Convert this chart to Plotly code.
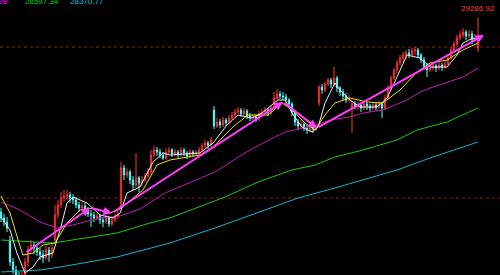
import plotly.graph_objects as go

# ---------------- data ----------------
idx = list(range(160))
opens = [27340,27280,27240,27060,26840,26760,26680,26620,26700,26840,26960,27010,26980,26940,26910,26880,26960,26910,27060,27310,
         27410,27480,27500,27510,27480,27460,27410,27380,27400,27360,27320,27310,27280,27300,27260,27240,27280,27220,27260,27300,
         27390,27780,27710,27740,27660,27610,27680,27630,27660,27700,27740,27910,27960,27940,27910,27880,27940,27960,27920,27940,
         27910,27960,27930,27900,27940,27920,27930,27960,28000,28030,28010,28360,28200,28240,28210,28260,28230,28280,28310,28340,
         28360,28320,28350,28300,28280,28290,28270,28320,28340,28360,28330,28380,28480,28520,28500,28490,28460,28420,28340,28240,
         28200,28220,28180,28160,28200,28170,28430,28590,28560,28620,28660,28620,28680,28580,28540,28500,28460,28380,28420,28400,
         28410,28380,28420,28400,28380,28410,28390,28420,28380,28480,28580,28680,28760,28830,28880,28910,28930,28910,28950,28960,
         28910,28860,28800,28760,28780,28800,28780,28810,28790,28820,28880,28960,29020,29080,29110,29140,29100,29120,29060,28980]
highs = [27380,27320,27290,27100,26880,26800,26740,26740,26880,27000,27060,27040,27020,26980,26960,27000,26990,27030,27410,27460,
         27540,27560,27560,27540,27520,27490,27440,27440,27430,27390,27360,27340,27330,27320,27290,27310,27300,27290,27320,27350,
         27840,27810,27780,27760,27700,27930,27700,27700,27730,27780,27960,28000,27990,27970,27940,27980,27990,27980,27970,27960,
         27990,27980,27950,27970,27960,27960,27990,28030,28060,28050,28090,28400,28280,28270,28290,28280,28310,28340,28370,28390,
         28380,28380,28370,28330,28320,28310,28350,28370,28390,28380,28410,28540,28570,28550,28540,28520,28480,28440,28360,28270,
         28260,28240,28210,28230,28220,28220,28610,28620,28640,28680,28680,28790,28700,28600,28570,28530,28510,28460,28450,28440,
         28430,28450,28440,28420,28440,28430,28450,28440,28510,28610,28700,28780,28860,28910,28940,28960,28970,28980,28990,28980,
         28930,28890,28830,28820,28830,28820,28840,28830,28850,28910,28990,29050,29110,29150,29180,29160,29160,29150,29120,29286.92]
lows = [27240,27200,27140,26800,26720,26620,26580,26580,26660,26800,26940,26920,26900,26860,26830,26860,26840,26880,27040,27280,
        27380,27440,27460,27430,27420,27380,27340,27360,27330,27290,27190,27240,27260,27220,27190,27220,27190,27200,27240,27270,
        27370,27660,27680,27620,27560,27580,27540,27600,27640,27680,27720,27890,27900,27880,27860,27860,27920,27890,27900,27880,
        27890,27900,27870,27880,27890,27900,27910,27940,27980,27970,27990,28170,28180,28180,28190,28200,28210,28260,28290,28320,
        28290,28300,28270,28250,28260,28240,28250,28300,28320,28300,28310,28360,28460,28470,28460,28430,28380,28300,28200,28160,
        28180,28150,28120,28140,28130,28150,28400,28520,28540,28600,28580,28600,28540,28500,28460,28430,28440,28130,28370,28360,
        28340,28360,28360,28340,28360,28350,28370,28280,28360,28460,28560,28660,28730,28800,28840,28860,28880,28890,28910,28880,
        28830,28760,28690,28740,28760,28740,28760,28750,28770,28800,28860,28940,29000,29060,29080,29060,29080,29020,29040,28940]
closes = [27280,27240,27180,26840,26760,26680,26640,26700,26840,26960,27010,26980,26940,26910,26880,26960,26910,26980,27310,27410,
          27480,27500,27510,27480,27460,27410,27380,27400,27360,27320,27310,27280,27300,27260,27240,27280,27220,27260,27300,27320,
          27780,27710,27740,27660,27610,27680,27630,27660,27700,27740,27910,27960,27940,27910,27880,27940,27960,27920,27940,27910,
          27960,27930,27900,27940,27920,27930,27960,28000,28030,28010,28060,28200,28240,28210,28260,28230,28280,28310,28340,28360,
          28320,28350,28300,28280,28290,28270,28320,28340,28360,28330,28380,28480,28520,28500,28490,28460,28420,28340,28240,28200,
          28220,28180,28160,28200,28170,28190,28590,28560,28620,28660,28620,28680,28580,28540,28500,28460,28480,28420,28400,28410,
          28380,28420,28400,28380,28410,28390,28420,28380,28480,28580,28680,28760,28830,28880,28910,28930,28910,28950,28960,28910,
          28860,28800,28760,28780,28800,28780,28810,28790,28820,28880,28960,29020,29080,29110,29140,29100,29120,29060,29080,29040]

ma5_idx = [0,3,5.3,8,10.7,13,17.3,19.7,22,24,28.7,33,37.3,39.7,42,46.3,50.7,54,56.3,66.3,70.7,75.3,79,83.7,87,92.3,94.7,97,
           100.3,103.7,105.7,108,111.3,113,116.3,119.7,125.3,128.7,132,135.3,139.7,143,148.7,152,154,157.3,159]
ma5_val = [27290,27160,26930,26730,26790,26890,26930,27160,27430,27490,27430,27310,27280,27330,27530,27590,27840,27930,27910,27930,
           28030,28210,28310,28280,28330,28460,28460,28330,28190,28140,28190,28430,28630,28560,28460,28390,28390,28480,28690,28910,
           28880,28790,28790,28910,29030,29080,29060]
ma10_idx = [0,3,5.7,7.3,10.7,14,18,22,26.3,30.7,36.3,39.7,47.3,52,56.3,66.3,70.7,77.3,82.3,89,93.7,97,101.3,104.7,108,111.3,
            116.3,122,127.3,133,138.7,143,148.7,154,159]
ma10_val = [27500,27330,27060,26910,26930,27010,27030,27230,27360,27380,27330,27370,27560,27810,27860,27910,27990,28190,28310,28310,
            28430,28360,28230,28160,28310,28430,28480,28440,28430,28560,28740,28830,28860,28960,29030]
ma20_idx = [0,6.3,13,18.7,24,33,39.7,46.3,54.7,71.3,81.3,88,94.7,105.3,109.7,116.3,120.7,127.3,135.3,139.7,143,154,159]
ma20_val = [27440,27360,27240,27180,27210,27280,27300,27370,27530,27740,27930,28040,28140,28210,28260,28290,28330,28360,28460,28540,
            28580,28690,28780]
ma60_idx = [0,17.3,38.7,49.7,56.3,65.7,74.7,85.7,97,104.7,111.3,120.7,132,138.7,148.7,159]
ma60_val = [27060,27030,27130,27230,27280,27390,27490,27640,27760,27810,27890,27960,28060,28160,28240,28380]
ma120_idx = [0,13,19.7,38.7,56.3,71.3,88,99,111.3,120.7,132,143,159]
ma120_val = [26740,26760,26790,26890,27030,27180,27360,27480,27580,27660,27760,27880,28040]

trend_idx = [8, 29.67, 37, 94, 105.33, 161]
trend_val = [26930, 27380, 27330, 28440, 28180, 29110]

ref_levels = [28990, 27480]

header_texts = ["28780.38", "28597.34", "28370.77"]
header_colors = ["#ff00ff", "#00d800", "#00c8d8"]
high_label = "29286.92"

# ---------------- figure ----------------
fig = go.Figure()

for lvl in ref_levels:
    fig.add_shape(type="line", xref="paper", x0=0, x1=1, yref="y", y0=lvl, y1=lvl,
                  line=dict(color="#8a1c1c", width=1, dash="dot"), layer="below")

fig.add_trace(go.Candlestick(
    x=idx, open=opens, high=highs, low=lows, close=closes,
    increasing=dict(line=dict(color="#ff3232", width=1), fillcolor="#000000"),
    decreasing=dict(line=dict(color="#54fcfc", width=1), fillcolor="#54fcfc"),
    whiskerwidth=0, hoverinfo="skip"))

for xs, ys, col in [(ma120_idx, ma120_val, "#14b4c8"), (ma60_idx, ma60_val, "#18c818"),
                    (ma20_idx, ma20_val, "#c01ea8"), (ma10_idx, ma10_val, "#e6e600"),
                    (ma5_idx, ma5_val, "#e8e8e8")]:
    fig.add_trace(go.Scatter(x=xs, y=ys, mode="lines", line=dict(color=col, width=1),
                             hoverinfo="skip"))

annotations = []
for k in range(1, len(trend_idx)):
    annotations.append(dict(x=trend_idx[k], y=trend_val[k], ax=trend_idx[k-1], ay=trend_val[k-1],
                            xref="x", yref="y", axref="x", ayref="y", text="", showarrow=True,
                            arrowhead=2, arrowsize=0.85, arrowwidth=2, arrowcolor="#ff3cff", standoff=0))

header_pos = [(9.5 / 500, "right"), (23 / 500, "left"), (68 / 500, "left")]
for (px, anc), t, c in zip(header_pos, header_texts, header_colors):
    annotations.append(dict(x=px, y=1, xref="paper", yref="paper", xanchor=anc, yanchor="middle",
                            yshift=-1.5, text=t, showarrow=False,
                            font=dict(family="Liberation Sans", size=8, color=c)))

annotations.append(dict(x=idx[-1], y=max(highs), xref="x", yref="y", xanchor="center", yanchor="bottom",
                        yshift=2, text=high_label, showarrow=False,
                        font=dict(family="Liberation Sans", size=8, color="#ff3c3c")))

fig.update_layout(
    width=500, height=275, margin=dict(l=0, r=0, t=0, b=0),
    paper_bgcolor="#000000", plot_bgcolor="#000000", showlegend=False,
    boxgap=0.4,
    xaxis=dict(visible=False, range=[-1/3, 166 + 1/3], rangeslider=dict(visible=False), fixedrange=True),
    yaxis=dict(visible=False, range=[26710, 29460], fixedrange=True),
    annotations=annotations,
)

fig.write_html("out.html")
